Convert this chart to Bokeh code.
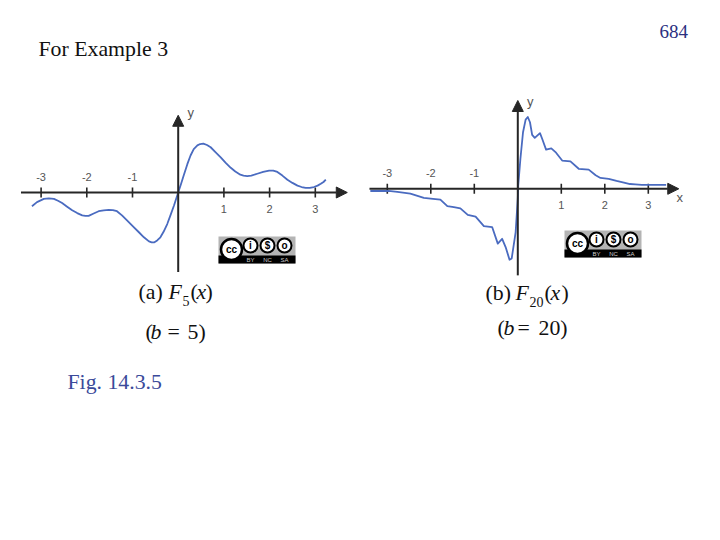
from bokeh.plotting import figure
from bokeh.models import Range1d, Arrow, NormalHead
from bokeh.core.properties import value
from bokeh.embed import file_html
from bokeh.resources import INLINE

# Panel (a): F5(x)
x5 = [-3.2,-3.09,-2.94,-2.83,-2.72,-2.63,-2.54,-2.43,-2.32,-2.21,-2.10,-2.03,-1.96,-1.85,-1.74,-1.63,-1.52,-1.43,-1.34,-1.23,-1.12,
      -0.99,-0.86,-0.75,-0.64,-0.58,-0.52,-0.46,-0.39,-0.32,-0.24,-0.17,-0.09,0,
      0.06,0.12,0.2,0.27,0.34,0.42,0.48,0.55,0.63,0.71,0.82,0.93,1.04,1.15,1.25,1.36,1.43,1.51,1.6,1.73,1.86,1.99,2.08,2.17,2.28,2.39,2.5,2.61,2.7,2.79,2.88,2.97,3.05,3.12,3.18,3.23]
y5 = [-0.30,-0.21,-0.14,-0.13,-0.14,-0.18,-0.23,-0.31,-0.39,-0.45,-0.50,-0.51,-0.51,-0.46,-0.41,-0.39,-0.38,-0.385,-0.41,-0.50,-0.61,
      -0.74,-0.87,-0.98,-1.07,-1.09,-1.09,-1.05,-0.98,-0.86,-0.69,-0.50,-0.28,0,
      0.18,0.37,0.62,0.81,0.95,1.03,1.06,1.07,1.04,0.99,0.88,0.77,0.65,0.54,0.46,0.39,0.37,0.36,0.37,0.41,0.45,0.48,0.48,0.45,0.37,0.28,0.21,0.15,0.12,0.10,0.10,0.12,0.15,0.19,0.23,0.28]
# Panel (b): F20(x)
x20 = [-3.39,-2.97,-2.77,-2.47,-2.16,-1.95,-1.78,-1.62,-1.47,-1.32,-1.15,-0.97,-0.78,-0.59,-0.46,-0.36,-0.28,-0.19,-0.14,-0.05,0,
       0.01,0.06,0.12,0.18,0.23,0.28,0.33,0.39,0.51,0.56,0.65,0.77,0.88,1.02,1.21,1.40,1.63,1.79,1.90,2.09,2.27,2.44,2.58,2.70,2.85,3.01,3.41]
y20 = [-0.05,-0.05,-0.07,-0.11,-0.21,-0.23,-0.25,-0.40,-0.42,-0.45,-0.60,-0.64,-0.86,-0.88,-1.26,-1.15,-1.34,-1.63,-1.60,-1.0,-0.22,
       0.08,0.69,1.30,1.59,1.65,1.53,1.24,1.17,1.28,1.15,0.90,0.93,0.83,0.65,0.63,0.46,0.44,0.31,0.25,0.23,0.18,0.14,0.11,0.10,0.09,0.09,0.09]
ticks = [-3, -2, -1, 1, 2, 3]
tick_labels = ["-3", "-2", "-1", "1", "2", "3"]

W, H = 704, 524
p = figure(width=W, height=H, output_backend="svg", toolbar_location=None,
           x_range=Range1d(0, W), y_range=Range1d(H, 0),
           x_axis_location=None, y_axis_location=None, min_border=0,
           outline_line_color=None, background_fill_color="white", border_fill_color="white")
p.grid.visible = False

BLUE = "#4a6bc0"
AX = "#262626"
GR = "#555555"


def panel(name, x0, y0, unit, xs, ys, xlim, ylim, ylab_y, xlabel):
    p.extra_x_ranges[name] = Range1d((0 - x0) / unit, (W - x0) / unit)
    p.extra_y_ranges[name] = Range1d((y0 - H) / unit, (y0 - 0) / unit)
    kw = dict(x_range_name=name, y_range_name=name)
    for start, end in [((xlim[0], 0), (xlim[1], 0)), ((0, ylim[0]), (0, ylim[1]))]:
        p.add_layout(Arrow(x_start=start[0], y_start=start[1], x_end=end[0], y_end=end[1],
                           line_color=AX, line_width=2,
                           end=NormalHead(size=11, fill_color=AX, line_color=AX), **kw))
    tk = 5 / unit
    p.segment(ticks, [-tk] * 6, ticks, [tk] * 6, line_color=AX, line_width=1.6, **kw)
    p.line(xs, ys, line_color=BLUE, line_width=1.8, line_join="round", **kw)
    neg = [t for t in ticks if t < 0]
    pos = [t for t in ticks if t > 0]
    font = value("Liberation Sans")
    p.text(neg, [15.5 / unit] * 3, text=[tick_labels[ticks.index(t)] for t in neg], text_font=font,
           text_font_size="11px", text_color=GR, text_align="center", text_baseline="middle", **kw)
    p.text(pos, [-16 / unit] * 3, text=[tick_labels[ticks.index(t)] for t in pos], text_font=font,
           text_font_size="11px", text_color=GR, text_align="center", text_baseline="middle", **kw)
    p.text([12.5 / unit], [ylab_y], text=["y"], text_font=font, text_font_size="13px",
           text_color=GR, text_align="center", text_baseline="middle", **kw)
    if xlabel:
        p.text([xlim[1] + 1 / unit], [-8.4 / unit], text=[xlabel], text_font=font, text_font_size="13px",
               text_color=GR, text_align="center", text_baseline="middle", **kw)


panel("a", 177.7, 192.0, 45.7, x5, y5, (-3.44, 3.70), (-1.74, 1.69), 1.757, "")
panel("b", 517.3, 188.3, 43.5, x20, y20, (-3.41, 3.70), (-1.99, 2.03), 2.01, "x")


def badge(bx, by):
    p.quad(left=[bx], right=[bx + 77], top=[by], bottom=[by + 27], fill_color="#b4b4b4", line_color=None)
    p.quad(left=[bx], right=[bx + 77], top=[by + 19], bottom=[by + 27], fill_color="#000000", line_color=None)
    p.scatter([bx + 13], [by + 13], size=21, marker="circle", fill_color="white", line_color="#000000", line_width=2.5)
    p.text([bx + 13], [by + 13], text=["cc"], text_font=value("Liberation Sans"), text_font_style="bold",
           text_font_size="10px", text_color="#000000", text_align="center", text_baseline="middle")
    for dx, s, lab in [(32, "i", "BY"), (49, "$", "NC"), (66, "o", "SA")]:
        p.scatter([bx + dx], [by + 9], size=14, marker="circle", fill_color="white",
                  line_color="#000000", line_width=2)
        p.text([bx + dx], [by + 9], text=[s], text_font=value("Liberation Sans"), text_font_style="bold",
               text_font_size="10px", text_color="#000000", text_align="center", text_baseline="middle")
        p.text([bx + dx], [by + 23], text=[lab], text_font=value("Liberation Sans"),
               text_font_size="6px", text_color="#cccccc", text_align="center", text_baseline="middle")


badge(218, 236)
badge(564, 230)


def t(x, y, s, size=21.8, color="#111111", style="normal"):
    p.text([x], [y - 0.33 * size], text=[s], text_font=value("Liberation Serif"), text_font_size=f"{size}px",
           text_font_style=style, text_color=color, text_align="left", text_baseline="alphabetic")


t(659, 37, "684", 19, "#2b2f7f")
t(38, 56, "For Example 3")
t(67, 389, "Fig. 14.3.5", 21.8, "#3a4a9a")
t(138, 299, "(a)")
t(168, 299, "F", style="italic")
t(182, 305, "5", 14)
t(190, 299, "(")
t(196, 299, "x", style="italic")
t(205, 299, ")")
t(145, 339, "(")
t(150, 339, "b", style="italic")
t(167, 339, "=")
t(187, 339, "5)")
t(485, 300, "(b)")
t(515, 300, "F", style="italic")
t(529, 306, "20", 14)
t(544, 300, "(")
t(550, 300, "x", style="italic")
t(561, 300, ")")
t(497, 335, "(")
t(503, 335, "b", style="italic")
t(517, 335, "=")
t(538, 335, "20)")

open("out.html", "w").write(file_html(p, INLINE))
